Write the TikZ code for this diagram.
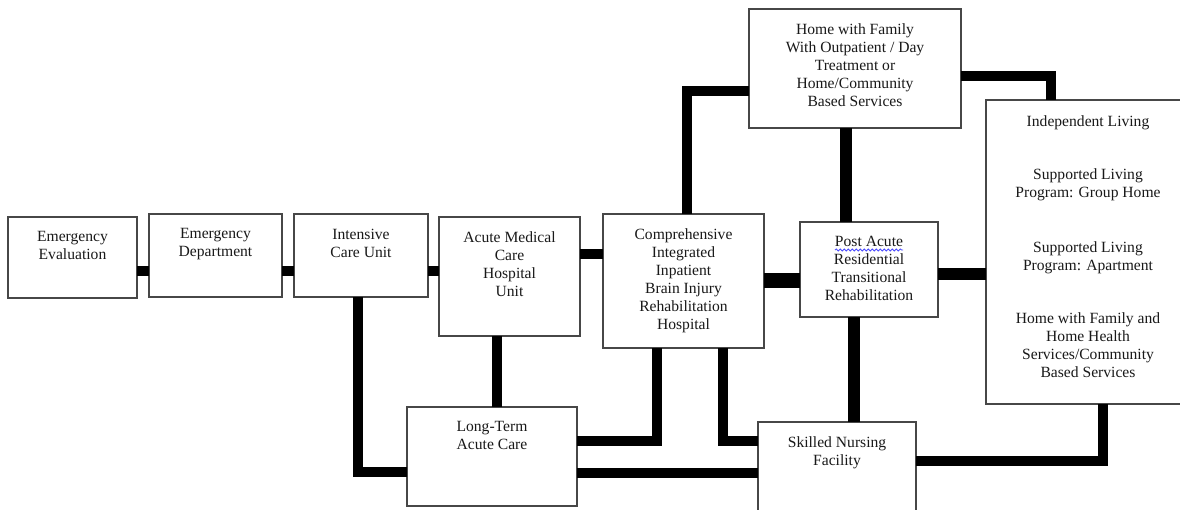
\documentclass[tikz,border=0pt]{standalone}
\usepackage{fontspec}
\setmainfont{Liberation Serif}
\usetikzlibrary{decorations.pathmorphing}
\tikzset{
  box/.style={draw=black!72, line width=1.2pt, fill=white, rectangle, inner sep=0pt, outer sep=0pt, anchor=north west},
  txt/.style={font=\fontsize{15.6}{18}\selectfont, text=black!90, align=center, inner sep=0pt, anchor=north},
  conn/.style={line width=10pt, line join=miter, line cap=butt, black},
}
\begin{document}
\begin{tikzpicture}[x=1pt,y=-1pt]
\useasboundingbox (0,0) rectangle (1180,510);
\fill[white] (0,0) rectangle (1180,510);
\clip (0,0) rectangle (1180,510);

% connector bend coordinates
\coordinate (c1) at (0,271);
\coordinate (c4) at (0,254.5);
\coordinate (c5) at (0,280.5);
\coordinate (c6) at (0,274);
\coordinate (c7) at (687,91);
\coordinate (c8) at (846,0);
\coordinate (c9) at (1051,76);
\coordinate (c10) at (358,472);
\coordinate (c11) at (497,0);
\coordinate (c12) at (657,441);
\coordinate (c13) at (723,441);
\coordinate (c14) at (0,473);
\coordinate (c15) at (854,0);
\coordinate (c16) at (1103,461);

% boxes
\node[box, minimum width=129pt, minimum height=81pt] (ee) at (8,217) {};
\node[box, minimum width=133pt, minimum height=83pt] (ed) at (149,214) {};
\node[box, minimum width=134pt, minimum height=83pt] (icu) at (294,214) {};
\node[box, minimum width=141pt, minimum height=119pt] (amc) at (439,217) {};
\node[box, minimum width=161pt, minimum height=134pt] (comp) at (603,214) {};
\node[box, minimum width=212pt, minimum height=119pt] (home) at (749,9) {};
\node[box, minimum width=138pt, minimum height=95pt] (post) at (800,222) {};
\node[box, minimum width=204pt, minimum height=304pt] (indep) at (986,100) {};
\node[box, minimum width=170pt, minimum height=99pt] (lt) at (407,407) {};
\node[box, minimum width=158pt, minimum height=100pt] (snf) at (758,422) {};

% connectors
\draw[conn] (ee.east |- c1) -- (ed.west |- c1);
\draw[conn] (ed.east |- c1) -- (icu.west |- c1);
\draw[conn] (icu.east |- c1) -- (amc.west |- c1);
\draw[conn] (amc.east |- c4) -- (comp.west |- c4);
\draw[conn, line width=15pt] (comp.east |- c5) -- (post.west |- c5);
\draw[conn, line width=12pt] (post.east |- c6) -- (indep.west |- c6);
\draw[conn] (comp.north -| c7) |- (home.west |- c7);
\draw[conn, line width=12pt] (home.south -| c8) -- (post.north -| c8);
\draw[conn] (home.east |- c9) -| (indep.north -| c9);
\draw[conn] (icu.south -| c10) |- (lt.west |- c10);
\draw[conn] (amc.south -| c11) -- (lt.north -| c11);
\draw[conn] (comp.south -| c12) |- (lt.east |- c12);
\draw[conn] (comp.south -| c13) |- (snf.west |- c13);
\draw[conn] (lt.east |- c14) -- (snf.west |- c14);
\draw[conn, line width=12pt] (post.south -| c15) -- (snf.north -| c15);
\draw[conn] (snf.east |- c16) -| (indep.south -| c16);

% texts
\node[txt] (eet) at ([yshift=-14.5pt]ee.north) {Emergency\\Evaluation};
\node[txt] (edt) at ([yshift=-14.5pt]ed.north) {Emergency\\Department};
\node[txt] (icut) at ([yshift=-14.5pt]icu.north) {Intensive\\Care Unit};
\node[txt] (amct) at ([yshift=-14.5pt]amc.north) {Acute Medical\\Care\\Hospital\\Unit};
\node[txt] (compt) at ([yshift=-14pt]comp.north) {Comprehensive\\Integrated\\Inpatient\\Brain Injury\\Rehabilitation\\Hospital};
\node[txt] (homet) at ([yshift=-14.5pt]home.north) {Home with Family\\With Outpatient / Day\\Treatment or\\Home/Community\\Based Services};
\node[txt] (postt) at ([yshift=-14.5pt]post.north) {Post Acute\\Residential\\Transitional\\Rehabilitation};
\node[txt] (indept) at ([yshift=-15pt]indep.north) {Independent Living\\[35pt]Supported Living\\Program: Group Home\\[37pt]Supported Living\\Program: Apartment\\[35pt]Home with Family and\\Home Health\\Services/Community\\Based Services};
\node[txt] (ltt) at ([yshift=-14.5pt]lt.north) {Long-Term\\Acute Care};
\node[txt] (snft) at ([yshift=-14.5pt]snf.north) {Skilled Nursing\\Facility};

% spell-check underline
\coordinate (u1) at (835,250);
\coordinate (u2) at (903,250);
\draw[blue!70!white, line width=0.8pt, decorate, decoration={snake, amplitude=1.1pt, segment length=4pt}] (u1) -- (u2);
\end{tikzpicture}
\end{document}
